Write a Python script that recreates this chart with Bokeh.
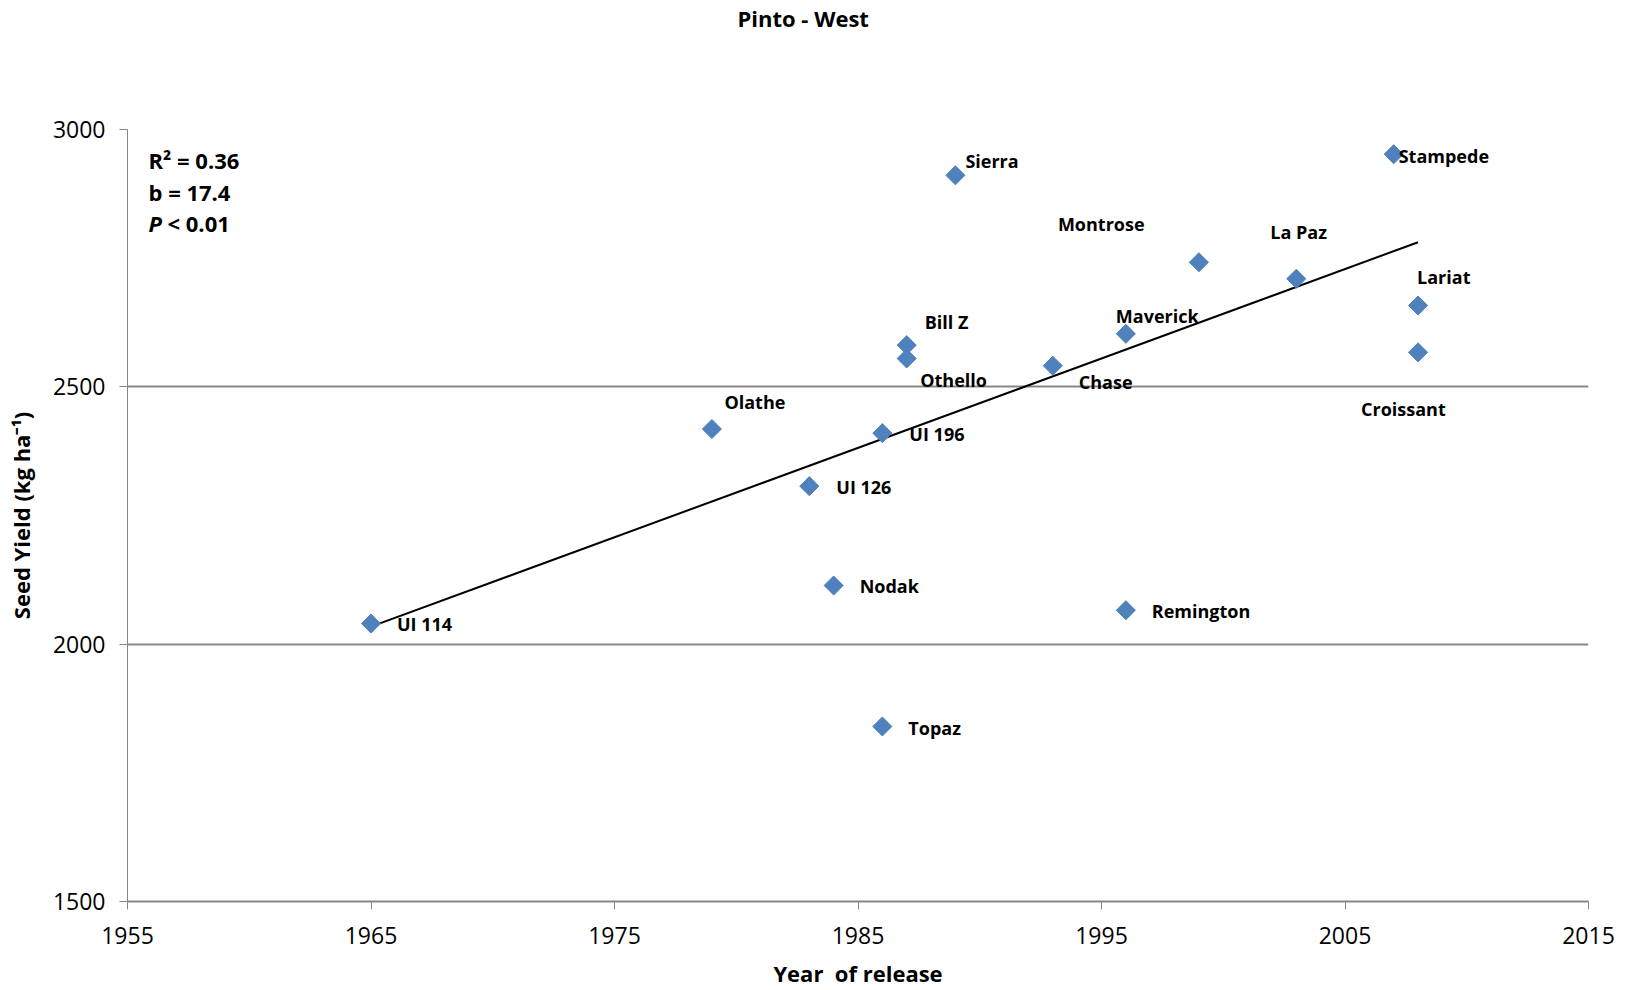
import numpy as np
from bokeh.plotting import figure
from bokeh.models import Range1d, FixedTicker, Label, ColumnDataSource, Title
from bokeh.core.properties import value
from bokeh.embed import file_html
from bokeh.resources import INLINE

# ---- data ----
cultivars = ["UI 114", "Olathe", "UI 126", "Nodak", "UI 196", "Topaz", "Bill Z", "Othello",
             "Sierra", "Chase", "Maverick", "Remington", "Montrose", "La Paz", "Stampede",
             "Lariat", "Croissant"]
release_year = [1965, 1979, 1983, 1984, 1986, 1986, 1987, 1987,
                1989, 1993, 1996, 1996, 1999, 2003, 2007, 2008, 2008]
seed_yield = [2040, 2418, 2307, 2114, 2410, 1840, 2581, 2555,
              2911, 2541, 2603, 2066, 2742, 2710, 2952, 2658, 2567]
trend_year = [1965, 2008]
trend_yield = [2034, 2781]
x_ticks = [1955, 1965, 1975, 1985, 1995, 2005, 2015]
y_ticks = [1500, 2000, 2500, 3000]

# label placement (screen px, right / down)
label_dx = [26, 12.5, 27, 26, 27, 26, 18, 13.5, 10, 26, -10, 26, -141, -26, 5, -1, -57]
label_dy = [0, -27, 1, 1, 1, 1, -23, 21, -14.5, 16.6, -17.6, 1, -38, -47, 2, -29, 57]

FONT = "Open Sans"
GRAY = "#878787"
BLUE = "#4F81BD"

p = figure(width=1615, height=990, output_backend="svg", toolbar_location=None,
           x_range=Range1d(1955, 2015), y_range=Range1d(1500, 3000),
           min_border_left=127, min_border_right=27, min_border_top=129, min_border_bottom=88)
p.outline_line_color = None
p.background_fill_color = "white"
p.border_fill_color = "white"
p.title.standoff = 0

# spacer (inner) and real title (outer) in the top panel
p.add_layout(Title(text=" ", standoff=64, text_font=FONT, text_font_size="22px",
                   text_font_style="bold"), "above")
p.add_layout(Title(text="Pinto - West", align="left", offset=610, standoff=1,
                   text_font=FONT, text_font_size="22px", text_font_style="bold",
                   text_color="black"), "above")

# axes
p.xaxis.ticker = FixedTicker(ticks=x_ticks)
p.yaxis.ticker = FixedTicker(ticks=y_ticks)
for ax in (p.xaxis, p.yaxis):
    ax.major_label_text_font = FONT
    ax.major_label_text_font_size = "23px"
    ax.major_label_text_color = "black"
    ax.minor_tick_line_color = None
    ax.major_tick_in = 0
    ax.major_tick_out = 8
    ax.major_tick_line_color = GRAY
    ax.axis_line_color = GRAY
    ax.axis_label_text_font = FONT
    ax.axis_label_text_font_style = "bold"
    ax.axis_label_text_color = "black"
p.xaxis.axis_line_width = 2
p.yaxis.axis_line_width = 1
p.xaxis.major_label_standoff = 17
p.yaxis.major_label_standoff = 14
p.xaxis.axis_label = "Year\u00a0 of release"
p.xaxis.axis_label_text_font_size = "22px"
p.xaxis.axis_label_standoff = 11
p.yaxis.axis_label = "Seed Yield (kg ha\u207b\u00b9)"
p.yaxis.axis_label_text_font_size = "22px"
p.yaxis.axis_label_standoff = 14

p.xgrid.grid_line_color = None
p.ygrid.ticker = FixedTicker(ticks=y_ticks)
p.ygrid.grid_line_color = GRAY
p.ygrid.grid_line_width = 2

# trend line
p.line(trend_year, trend_yield, line_color="black", line_width=2)

# points
src = ColumnDataSource(dict(x=release_year, y=seed_yield, name=cultivars, dx=label_dx, dy=label_dy))
p.scatter("x", "y", source=src, marker="square", angle=np.pi / 4, size=13.5,
          fill_color=BLUE, line_color=BLUE)
p.text("x", "y", text="name", source=src, x_offset="dx", y_offset="dy",
       text_font=value(FONT), text_font_style="bold", text_font_size="18px",
       text_align="left", text_baseline="middle", text_color="black")

# statistics (screen units relative to the frame's bottom-left)
def lab(x, y, t, size="22px", style="bold", align="left"):
    p.add_layout(Label(x=x, y=y, x_units="screen", y_units="screen", text=t,
                       text_font=FONT, text_font_size=size, text_font_style=style,
                       text_align=align, text_baseline="middle", text_color="black"))

lab(21, 742, "R\u00b2 = 0.36")
lab(21, 710, "b = 17.4")
lab(21, 679, "P", style="bold italic")
lab(40, 679, "< 0.01")

open("out.html", "w").write(file_html(p, INLINE))
